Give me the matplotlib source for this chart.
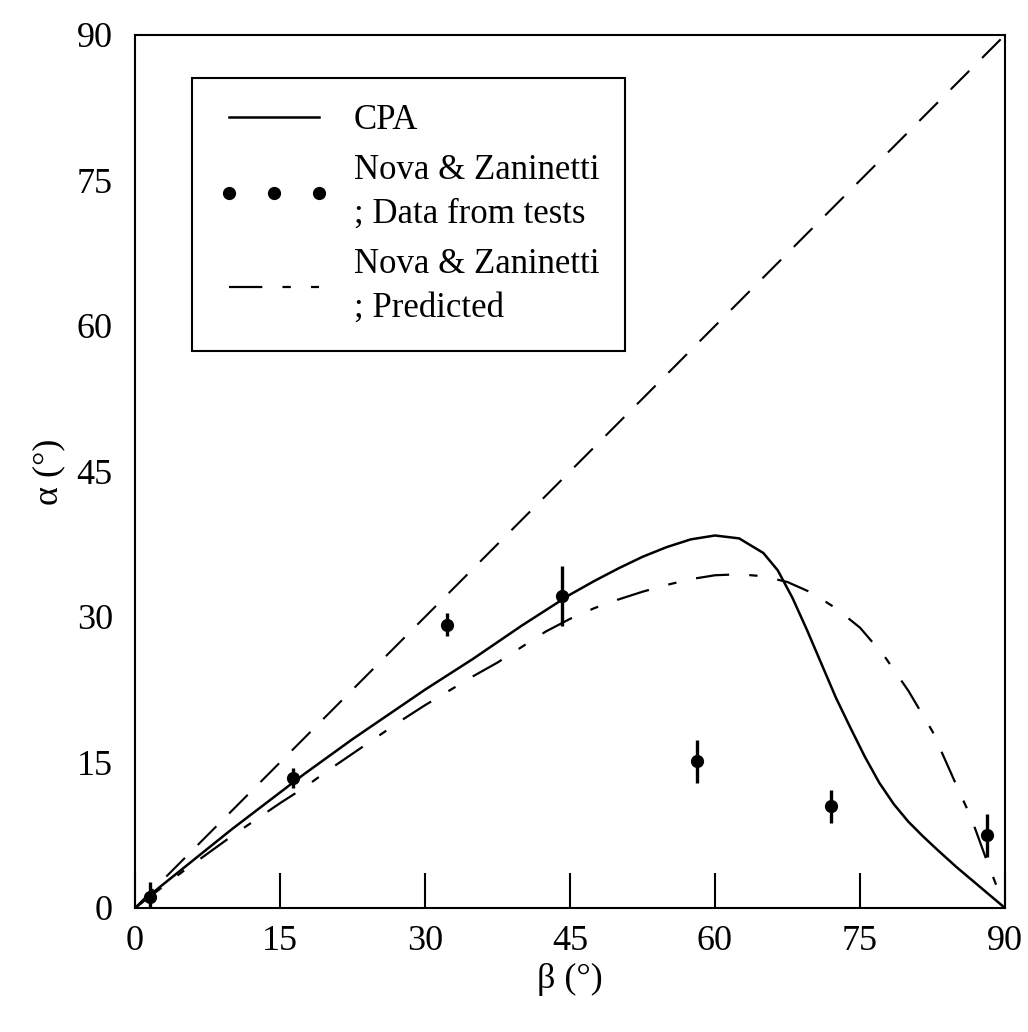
import numpy as np
import matplotlib
matplotlib.use("Agg")
import matplotlib.pyplot as plt
from matplotlib.ticker import FixedLocator

plt.rcParams['font.family'] = ['Liberation Serif', 'DejaVu Serif']
plt.rcParams['lines.scale_dashes'] = False

# CPA curve
beta_cpa = [0, 2.5, 5, 7.5, 10, 12.5, 15, 17.5, 20, 22.5, 25, 27.5, 30, 32.5, 35, 37.5,
            40, 42.5, 45, 47.5, 50, 52.5, 55, 57.5, 60, 62.5, 65, 66.5, 68, 69.5, 71,
            72.5, 74, 75.5, 77, 78.5, 80, 81.5, 83, 85, 87.5, 90]
alpha_cpa = [0, 2.1, 4.1, 6.1, 8.1, 10.0, 11.9, 13.8, 15.6, 17.4, 19.1, 20.8, 22.5, 24.1,
             25.7, 27.4, 29.1, 30.7, 32.3, 33.7, 35.0, 36.2, 37.2, 38.0, 38.4, 38.1, 36.6,
             34.8, 32.0, 28.7, 25.2, 21.7, 18.6, 15.6, 12.9, 10.7, 8.9, 7.4, 6.0, 4.2, 2.1, 0]

# Nova & Zaninetti predicted
beta_pred = [0, 2.5, 5, 7.5, 10, 12.5, 15, 17.5, 20, 22.5, 25, 27.5, 30, 32.5, 35, 37.5,
             40, 42.5, 45, 47.5, 50, 52.5, 55, 57.5, 60, 62.5, 65, 67.5, 70, 72.5, 75,
             77.5, 80, 82.5, 85, 86.5, 88, 89.5]
alpha_pred = [0, 1.9, 3.8, 5.6, 7.4, 9.1, 10.8, 12.4, 14.2, 15.9, 17.6, 19.3, 20.9, 22.4,
              23.9, 25.3, 26.9, 28.5, 29.8, 30.9, 31.8, 32.6, 33.3, 33.9, 34.3, 34.4,
              34.2, 33.6, 32.5, 30.9, 28.9, 26.0, 22.4, 18.2, 12.6, 9.3, 5.2, 1.3]

# Nova & Zaninetti test data
beta_test = [1.6, 16.3, 32.3, 44.2, 58.1, 72.0, 88.1]
alpha_test = [1.1, 13.4, 29.2, 32.2, 15.1, 10.5, 7.5]
alpha_err = [1.6, 1.0, 1.2, 3.1, 2.2, 1.7, 2.2]

ticks = [0, 15, 30, 45, 60, 75, 90]

fig = plt.figure(figsize=(10.28, 10.32), dpi=100)
ax = fig.add_axes([0.1313, 0.1202, 0.8463, 0.8459])

ax.plot([0, 90], [0, 90], color='black', lw=1.5, dashes=(19, 13))
cpa, = ax.plot(beta_cpa, alpha_cpa, color='black', lw=1.8, label='CPA')
ax.errorbar(beta_test, alpha_test, yerr=alpha_err, fmt='none', ecolor='black',
            elinewidth=2.4, capsize=0)
pts, = ax.plot(beta_test, alpha_test, 'o', color='black', ms=8.5,
               label='Nova & Zaninetti\n; Data from tests')
pred, = ax.plot(beta_pred, alpha_pred, color='black', lw=1.6,
                dashes=(24, 14.5, 6, 14.5), label='Nova & Zaninetti\n; Predicted')

ax.set_xlim(0, 90)
ax.set_ylim(0, 90)
ax.set_xticks(ticks)
ax.set_yticks(ticks)
ax.yaxis.set_minor_locator(FixedLocator([75]))
ax.tick_params(axis='x', direction='in', length=25, width=1.5, labelsize=26, pad=12)
ax.tick_params(axis='y', which='major', length=0, labelsize=26, pad=16)
ax.tick_params(axis='y', which='minor', direction='in', length=25, width=1.5)
for s in ax.spines.values():
    s.set_linewidth(1.5)

ax.set_xlabel('β (°)', fontsize=26, labelpad=4)
ax.set_ylabel('α (°)', fontsize=26, labelpad=8)

leg = ax.legend(handles=[cpa, pts, pred], loc='upper left', bbox_to_anchor=(0.066, 0.951),
                numpoints=3, handlelength=3.2, handletextpad=0.7, borderpad=0.75,
                labelspacing=0.5, borderaxespad=0, fancybox=False, framealpha=1,
                edgecolor='black', prop={'size': 25})
leg.get_frame().set_linewidth(1.5)
for t in leg.get_texts():
    t.set_linespacing(1.42)

fig.savefig('out.png', dpi=100)
